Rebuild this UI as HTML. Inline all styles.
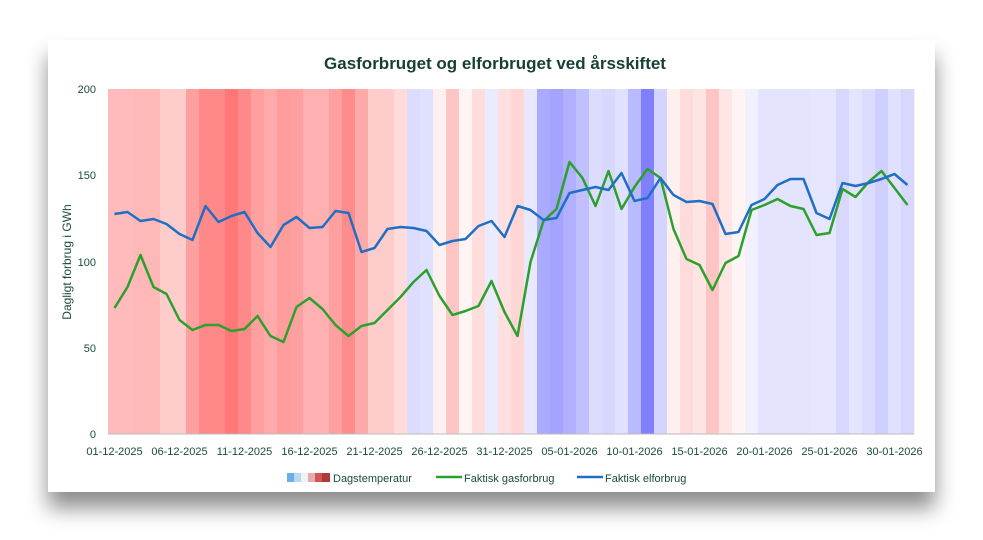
<!DOCTYPE html><html><head><meta charset="utf-8"><style>
body{margin:0;width:983px;height:540px;background:#fff;overflow:hidden;font-family:"Liberation Sans",sans-serif}
.card{position:absolute;left:48px;top:40px;width:887px;height:452px;background:#fff;box-shadow:0 16px 20px rgba(0,0,0,0.45)}
</style></head><body><div class="card"></div>
<svg width="983" height="540" style="position:absolute;left:0;top:0" font-family="Liberation Sans, sans-serif">
<text x="495" y="69" text-anchor="middle" font-size="17" font-weight="bold" fill="#173f35">Gasforbruget og elforbruget ved årsskiftet</text>
<g id="bands"></g>
<g font-size="11" fill="#1b4a3f">
<text x="96" y="93" text-anchor="end">200</text><text x="96" y="179" text-anchor="end">150</text><text x="96" y="266" text-anchor="end">100</text><text x="96" y="352" text-anchor="end">50</text><text x="96" y="438" text-anchor="end">0</text>
<text transform="translate(71,262) rotate(-90)" text-anchor="middle" font-size="12">Dagligt forbrug i GWh</text>
<g id="xl" text-anchor="middle"></g>
</g>
<line x1="108" y1="434" x2="914" y2="434" stroke="#bbb"/>
<polyline id="gas" fill="none" stroke="#2ca02c" stroke-width="2.5" stroke-linejoin="round"/>
<polyline id="el" fill="none" stroke="#1f6fc5" stroke-width="2.5" stroke-linejoin="round"/>
<g font-size="11" fill="#1b4a3f">
<rect x="287" y="473" width="7" height="9" fill="#6aaee8"/><rect x="294" y="473" width="7" height="9" fill="#b9d8f2"/><rect x="301" y="473" width="7" height="9" fill="#f1f1f1"/><rect x="308" y="473" width="7" height="9" fill="#e8aaaa"/><rect x="315" y="473" width="7" height="9" fill="#d05555"/><rect x="322" y="473" width="8" height="9" fill="#b03a3a"/>
<text x="333" y="482">Dagstemperatur</text>
<line x1="436" y1="477" x2="462" y2="477" stroke="#2ca02c" stroke-width="2.5"/><text x="464" y="482">Faktisk gasforbrug</text>
<line x1="577" y1="477" x2="603" y2="477" stroke="#1f6fc5" stroke-width="2.5"/><text x="605" y="482">Faktisk elforbrug</text>
</g>
</svg>
<script>
var c="ffbbbb ffbbbb ffb8b8 ffb8b8 ffcccc ffcccc ffa0a0 ff8888 ff8888 ff7777 ff8888 ffa0a0 ffaaaa ff9c9c ffa0a0 ffb0b0 ffb0b0 ffa0a0 ff8c8c ffaaaa ffcccc ffcccc ffdcdc dcdcff e0e0ff fff0f0 ffc4c4 fff4f4 ffdddd ebebff ffdfdf ffd6d6 e8e8ff aaaaff a4a4ff b0b0ff c0c0ff dcdcff d8d8ff e0e0ff babaff 8080ff d4d4ff fff0f0 ffdcdc ffe4e4 ffc4c4 ffe6e6 fff4f4 f0f0ff e4e4ff e4e4ff e4e4ff e4e4ff e6e6ff e6e6ff d8d8ff e4e4ff dcdcff d0d0ff e0e0ff d8d8ff".split(" ");
var ns="http://www.w3.org/2000/svg",b=document.getElementById("bands");
c.forEach(function(k,i){var r=document.createElementNS(ns,"rect");r.setAttribute("x",108+13*i);r.setAttribute("y",89);r.setAttribute("width",13.3);r.setAttribute("height",345);r.setAttribute("fill","#"+k);b.appendChild(r);});
var g=[308,287,255,287,294,320,330,325,325,331,329,316,336,342,307,298,309,325,336,326,323,310,297,282,270,296,315,311,306,281,312,336,262,221,209,162,178,206,171,209,187,169,178,229,259,265,290,263,256,210,205,199,206,209,235,233,189,197,182,171,188,205];
var e=[214,212,221,219,224,234,240,206,222,216,212,233,247,225,217,228,227,211,213,252,248,229,227,228,231,245,241,239,226,221,237,206,210,220,218,193,190,187,190,173,201,198,178,195,202,201,204,234,232,205,199,185,179,179,213,219,183,186,183,179,174,185];
function p(a){return a.map(function(y,i){return (114.5+13*i)+","+y}).join(" ")}
document.getElementById("gas").setAttribute("points",p(g));document.getElementById("el").setAttribute("points",p(e));
var L=["01-12-2025","06-12-2025","11-12-2025","16-12-2025","21-12-2025","26-12-2025","31-12-2025","05-01-2026","10-01-2026","15-01-2026","20-01-2026","25-01-2026","30-01-2026"],xl=document.getElementById("xl");
L.forEach(function(t,i){var n=document.createElementNS(ns,"text");n.setAttribute("x",114.5+65*i);n.setAttribute("y",455);n.textContent=t;xl.appendChild(n);});
</script></body></html>
